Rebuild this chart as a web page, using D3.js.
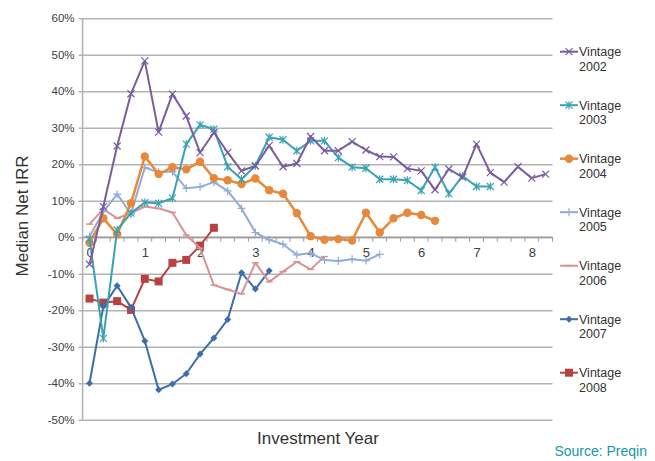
<!DOCTYPE html>
<html><head><meta charset="utf-8">
<script src="https://cdn.jsdelivr.net/npm/d3@7/dist/d3.min.js"></script>
<style>
html,body{margin:0;padding:0;background:#fff;}
svg{display:block;}
text{font-family:"Liberation Sans",Arial,sans-serif;}
</style></head>
<body>
<svg id="chart" width="655" height="461"></svg>
<script>
// ---- data (quarterly points, index = quarter since start) ----
const yearLabels = ["0","1","2","3","4","5","6","7","8"];
const yTicks = [-50,-40,-30,-20,-10,0,10,20,30,40,50,60];
const seriesNames = ["Vintage 2002","Vintage 2003","Vintage 2004","Vintage 2005","Vintage 2006","Vintage 2007","Vintage 2008"];
const v2002 = [-7.4,8.4,25,39.3,48.3,28.8,39.2,33.2,23.2,28.7,23.2,18.2,19.5,25.1,19.3,20.2,27.6,23.7,23.7,26.2,23.9,22.1,22.0,18.8,18.2,13.0,18.7,16.4,25.5,17.7,15.1,19.3,16.2,17.3];
const v2003 = [-0.5,-27.7,2.0,6.6,9.5,9.3,10.7,25.5,30.8,29.6,19.3,15.9,19.6,27.4,26.7,23.7,26.4,26.4,21.8,19.2,18.9,15.9,15.9,15.6,12.8,19.2,11.9,16.8,13.9,13.9];
const v2004 = [-1.5,5.2,0.8,9.3,22.1,17.3,19.2,18.6,20.7,16.2,15.6,14.6,16.1,12.9,11.9,6.6,0.3,-0.7,-0.5,-0.9,6.7,1.3,5.2,6.7,6.1,4.5];
const v2005 = [0.2,7.0,11.8,6.4,19.1,17.8,18.0,13.4,13.8,15.1,12.7,7.9,1.3,-0.7,-1.9,-4.8,-4.4,-6.2,-6.5,-6.0,-6.4,-4.7];
const v2006 = [3.6,7.7,5.2,6.6,8.4,7.9,6.8,0.6,-3.0,-13.1,-14.3,-15.5,-7.0,-12.2,-9.4,-6.7,-8.8,-5.3];
const v2007 = [-40.0,-19.0,-13.3,-19.2,-28.4,-41.8,-40.2,-37.4,-32.0,-27.6,-22.5,-9.7,-14.2,-9.2];
const v2008 = [-16.8,-17.9,-17.5,-19.9,-11.4,-12.1,-7.0,-6.2,-2.3,2.6];
const allValues = [v2002,v2003,v2004,v2005,v2006,v2007,v2008];

const colors = ["#7b5c9d","#3aa2b4","#e8883a","#93acd6","#d69391","#3e6daa","#b8423f"];
const markers = ["x","asterisk","circle","plus","dash","diamond","square"];
const widths = [2,2,2.5,2,2,2,2];

const svg = d3.select("#chart");
const nCat = 34;
const x = d3.scaleLinear().domain([-0.5, nCat-0.5]).range([82.6, 552.5]);
const y = d3.scaleLinear().domain([-50, 60]).range([419.8, 18.2]);

// gridlines + y axis
const yAxis = d3.axisLeft(y).tickValues(yTicks).tickFormat(d => d + "%").tickSize(-(552.5-82.6)).tickPadding(8);
const gy = svg.append("g").attr("transform","translate(82.6,0)").call(yAxis);
gy.select(".domain").remove();
gy.selectAll(".tick line").attr("stroke","#b3b3b3").attr("stroke-width",1.6).attr("x1",-4);
gy.selectAll(".tick text").attr("fill","#404040").style("font-size","11.5px");
svg.append("line").attr("x1",82.6).attr("x2",82.6).attr("y1",y(60)).attr("y2",y(-50)).attr("stroke","#b3b3b3").attr("stroke-width",1.6);

// x axis at zero
svg.append("line").attr("x1",82.6).attr("x2",552.5).attr("y1",y(0)).attr("y2",y(0)).attr("stroke","#9a9a9a").attr("stroke-width",1.4);
svg.append("g").selectAll("line").data(d3.range(nCat+1)).join("line")
  .attr("x1",d=>x(d-0.5)).attr("x2",d=>x(d-0.5)).attr("y1",y(0)).attr("y2",y(0)+4.5)
  .attr("stroke","#9a9a9a").attr("stroke-width",1);
const xAxis = d3.axisBottom(x).tickValues(yearLabels.map((d,i)=>i*4)).tickFormat((d,i)=>yearLabels[i]).tickSize(0).tickPadding(11);
const gx = svg.append("g").attr("transform",`translate(0,${y(0)})`).call(xAxis);
gx.select(".domain").remove();
gx.selectAll(".tick text").attr("fill","#404040").style("font-size","13px");

// titles
svg.append("text").attr("transform","translate(28,216) rotate(-90)").attr("text-anchor","middle")
  .attr("fill","#333").style("font-size","17px").text("Median Net IRR");
svg.append("text").attr("x",318).attr("y",444).attr("text-anchor","middle")
  .attr("fill","#333").style("font-size","17px").text("Investment Year");
svg.append("text").attr("x",647).attr("y",456).attr("text-anchor","end")
  .attr("fill","#1796a8").style("font-size","14px").text("Source: Preqin");

function drawMarker(g, type, cx, cy, color){
  if(type==="x"){
    g.append("path").attr("d",`M${cx-3.5},${cy-3.5}L${cx+3.5},${cy+3.5}M${cx-3.5},${cy+3.5}L${cx+3.5},${cy-3.5}`).attr("stroke",color).attr("stroke-width",1.2);
  } else if(type==="asterisk"){
    g.append("path").attr("d",`M${cx-3.5},${cy-3.5}L${cx+3.5},${cy+3.5}M${cx-3.5},${cy+3.5}L${cx+3.5},${cy-3.5}M${cx},${cy-4}L${cx},${cy+4}`).attr("stroke",color).attr("stroke-width",1.2);
  } else if(type==="plus"){
    g.append("path").attr("d",`M${cx-4},${cy}L${cx+4},${cy}M${cx},${cy-4}L${cx},${cy+4}`).attr("stroke",color).attr("stroke-width",1.2);
  } else if(type==="circle"){
    g.append("circle").attr("cx",cx).attr("cy",cy).attr("r",4.2).attr("fill",color);
  } else if(type==="square"){
    g.append("rect").attr("x",cx-4).attr("y",cy-4).attr("width",8).attr("height",8).attr("fill",color);
  } else if(type==="diamond"){
    g.append("path").attr("d",`M${cx},${cy-3.5}L${cx+3.5},${cy}L${cx},${cy+3.5}L${cx-3.5},${cy}Z`).attr("fill",color);
  } else if(type==="dash"){
    g.append("path").attr("d",`M${cx-3.5},${cy}L${cx+3.5},${cy}`).attr("stroke",color).attr("stroke-width",1.5);
  }
}

const line = d3.line().x((d,i)=>x(i)).y(d=>y(d));
// draw in reverse order so 2002 is on top
const order = [6,5,4,3,2,1,0];
order.forEach(s=>{
  const g = svg.append("g");
  g.append("path").datum(allValues[s]).attr("d",line).attr("fill","none")
    .attr("stroke",colors[s]).attr("stroke-width",widths[s]).attr("stroke-linejoin","round");
  allValues[s].forEach((v,i)=>drawMarker(g, markers[s], x(i), y(v), colors[s]));
});

// legend
seriesNames.forEach((name,s)=>{
  const cy = 51.7 + s*53.5;
  const g = svg.append("g");
  g.append("line").attr("x1",560).attr("x2",578).attr("y1",cy).attr("y2",cy).attr("stroke",colors[s]).attr("stroke-width",widths[s]);
  drawMarker(g, markers[s], 569, cy, colors[s]);
  const parts = name.split(" ");
  g.append("text").attr("x",579).attr("y",cy+4.5).attr("fill","#333").style("font-size","12.5px").text(parts[0]);
  g.append("text").attr("x",579).attr("y",cy+19).attr("fill","#333").style("font-size","12.5px").text(parts[1]);
});
</script>
</body></html>
